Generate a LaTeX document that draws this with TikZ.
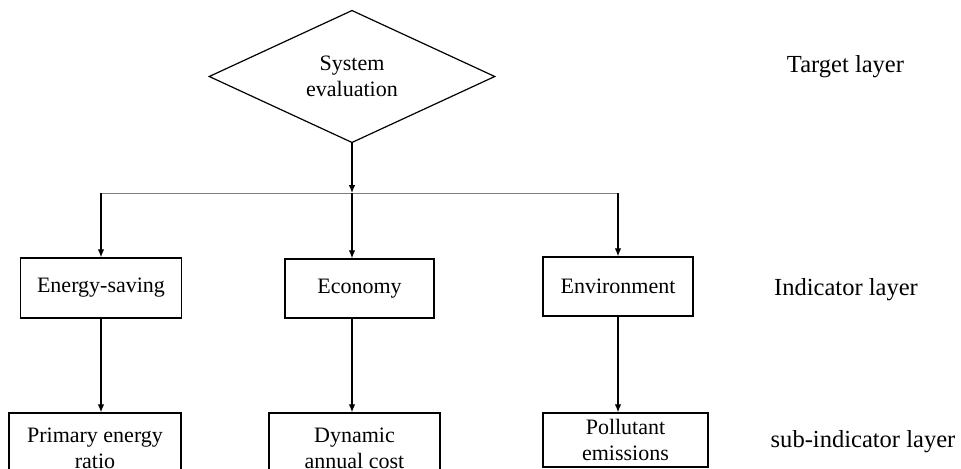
\documentclass[tikz,border=0pt]{standalone}
\usepackage{fontspec}
\setmainfont{Liberation Serif}
\usetikzlibrary{shapes.geometric, arrows.meta}
\tikzset{
  box/.style={draw, line width=1.1pt, inner sep=0pt, align=center,
    font=\fontsize{16.5}{19.5}\selectfont},
  decide/.style={draw, diamond, line width=0.9pt, inner sep=0pt, align=center,
    minimum width=214.5pt, minimum height=96.75pt,
    font=\fontsize{16.5}{19.5}\selectfont},
  layer/.style={font=\fontsize{18.4}{22}\selectfont},
  link/.style={-{Latex[length=6pt, width=5pt]}, line width=0.9pt},
}

\begin{document}
\begin{tikzpicture}[x=0.75pt, y=-0.75pt]
  \useasboundingbox (0,0) rectangle (961,468);
  \clip (0,0) rectangle (961,468);

  %% target layer
  \node[decide] (sys) at (352,76.5) {System\\evaluation};
  \node[layer] (target) at (845.5,67) {Target layer};

  %% indicator layer
  \node[box, minimum width=120.75pt, minimum height=45pt] (energy) at (101,288) {Energy-saving};
  \node[box, minimum width=111.75pt, minimum height=44.25pt] (econ) at (359.5,288.5) {Economy};
  \node[box, minimum width=112.5pt, minimum height=44.25pt] (env) at (618,286.5) {Environment};
  \node[layer] (indicator) at (846,290) {Indicator layer};

  %% sub-indicator layer
  \node[box, minimum width=129pt, minimum height=52.5pt] (pe) at (95,448) {Primary energy\\ratio};
  \node[box, minimum width=128.25pt, minimum height=52.5pt] (dac) at (354.5,448) {Dynamic\\annual cost};
  \node[box, minimum width=123.75pt, minimum height=40.5pt] (pol) at (625.5,440) {Pollutant\\emissions};
  \node[layer] (sub) at (863,442) {sub-indicator layer};

  %% connectors
  \coordinate (bus) at (0,193);
  \draw[gray, line width=0.7pt] (energy.north |- bus) -- (env.north |- bus);
  \draw[link] (sys.south) -- (sys.south |- bus);
  \draw[link] (sys.south |- bus) -- (sys.south |- econ.north);
  \foreach \n in {energy,env} {
    \draw[link] (\n.north |- bus) -- (\n.north);
    }
  \draw[link] (energy.south) -- (energy.south |- pe.north);
  \draw[link] (sys.south |- econ.south) -- (sys.south |- dac.north);
  \draw[link] (env.south) -- (env.south |- pol.north);
\end{tikzpicture}
\end{document}
